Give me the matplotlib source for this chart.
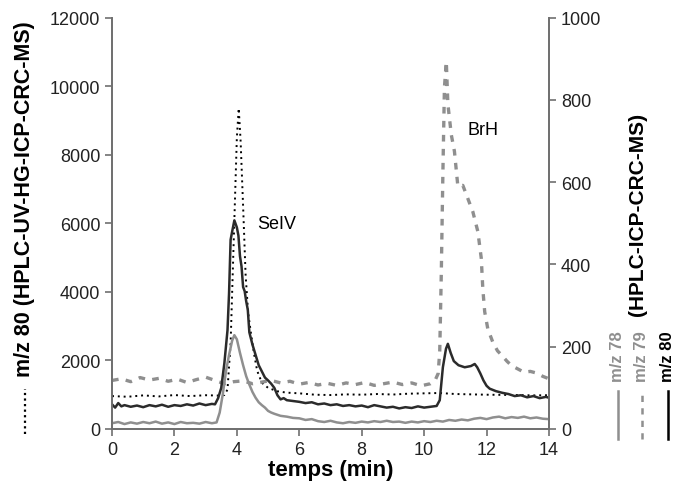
import matplotlib
matplotlib.use("Agg")
from matplotlib import pyplot as plt
from matplotlib.lines import Line2D

plt.rcParams['font.family'] = ['Liberation Sans', 'DejaVu Sans']

# m/z 80, HPLC-UV-HG-ICP-CRC-MS (left axis)
t_uv = [0.0, 0.5, 1.0, 1.5, 2.0, 2.5, 3.0, 3.4, 3.6, 3.7, 3.8, 3.9, 4.0, 4.06,
        4.12, 4.2, 4.28, 4.36, 4.45, 4.55, 4.65, 4.8, 5.0, 5.3, 5.6, 6.0, 6.5,
        7.0, 7.5, 8.0, 8.5, 9.0, 9.5, 10.0, 10.5, 11.0, 11.5, 12.0, 12.5, 13.0,
        13.5, 14.0]
uv80 = [960, 940, 980, 950, 990, 960, 985, 975, 990, 1150, 2500, 5500, 8500, 9350,
        8400, 6500, 4500, 3400, 2800, 2200, 1700, 1350, 1200, 1100, 1060, 1040, 1000,
        990, 1010, 1000, 1020, 1005, 1030, 1040, 1050, 1020, 1010, 1000, 995, 990,
        980, 985]

# m/z 78, HPLC-ICP-CRC-MS (right axis)
t_78 = [0.0, 0.2, 0.4, 0.6, 0.8, 1.0, 1.2, 1.4, 1.6, 1.8, 2.0, 2.2, 2.4, 2.6, 2.8,
        3.0, 3.2, 3.35, 3.45, 3.55, 3.65, 3.75, 3.85, 3.92, 4.0, 4.1, 4.2, 4.3,
        4.4, 4.5, 4.6, 4.7, 4.8, 4.9, 5.0, 5.1, 5.2, 5.4, 5.6, 5.8, 6.0, 6.2, 6.4,
        6.6, 6.8, 7.0, 7.2, 7.4, 7.6, 7.8, 8.0, 8.2, 8.4, 8.6, 8.8, 9.0, 9.2, 9.4,
        9.6, 9.8, 10.0, 10.2, 10.4, 10.6, 10.8, 11.0, 11.2, 11.4, 11.6, 11.8, 12.0,
        12.2, 12.4, 12.6, 12.8, 13.0, 13.2, 13.4, 13.6, 13.8, 14.0]
ms78 = [14, 17, 12, 16, 13, 17, 14, 18, 13, 16, 12, 17, 14, 15, 13,
        17, 14, 16, 40, 85, 140, 180, 215, 228, 218, 185, 155, 128,
        108, 90, 76, 65, 58, 52, 44, 40, 37, 32, 30, 27, 26, 22, 24,
        19, 17, 20, 16, 14, 17, 15, 18, 16, 19, 17, 20, 17, 18, 15,
        18, 16, 19, 17, 20, 18, 22, 20, 23, 21, 25, 27, 24,
        28, 30, 26, 29, 27, 30, 26, 28, 25, 24]

# m/z 79
t_79 = [0.0, 0.3, 0.6, 0.9, 1.2, 1.5, 1.8, 2.1, 2.4, 2.7, 3.0, 3.3, 3.6, 3.9, 4.2,
        4.5, 4.8, 5.1, 5.4, 5.7, 6.0, 6.3, 6.6, 6.9, 7.2, 7.5, 7.8, 8.1, 8.4, 8.7,
        9.0, 9.3, 9.6, 9.9, 10.2, 10.35, 10.45, 10.5, 10.55, 10.6, 10.65, 10.71,
        10.76, 10.87, 10.97, 11.08, 11.24, 11.4, 11.56, 11.72, 11.83, 11.88, 11.94,
        12.04, 12.2, 12.35, 12.5, 12.65, 12.8, 13.0, 13.2, 13.4, 13.6, 13.8, 14.0]
ms79 = [118, 122, 115, 125, 119, 123, 116, 121, 113, 120, 126, 118, 110, 115, 117,
        110, 114, 118, 112, 116, 109, 113, 107, 111, 106, 112, 108, 113, 106, 110,
        114, 108, 112, 105, 110, 118, 135, 190, 380, 620, 830, 893,
        790, 715, 675, 590, 592, 560, 528, 480, 415, 340, 285,
        243, 211, 190, 178, 165, 154, 146, 138, 140, 136, 128, 122]

# m/z 80
t_80 = [0.0, 0.1, 0.2, 0.3, 0.4, 0.6, 0.8, 1.0, 1.2, 1.4, 1.6, 1.8, 2.0, 2.2, 2.4,
        2.6, 2.8, 3.0, 3.2, 3.3, 3.4, 3.5, 3.6, 3.7, 3.75, 3.8, 3.85, 3.92, 4.0,
        4.05, 4.1, 4.15, 4.2, 4.25, 4.3, 4.35, 4.4, 4.5, 4.6, 4.7, 4.8, 4.9, 5.0,
        5.1, 5.2, 5.3, 5.4, 5.5, 5.6, 5.8, 6.0, 6.2, 6.4, 6.6, 6.8, 7.0, 7.2, 7.4,
        7.6, 7.8, 8.0, 8.2, 8.4, 8.6, 8.8, 9.0, 9.2, 9.4, 9.6, 9.8, 10.0, 10.2,
        10.4, 10.5, 10.6, 10.7, 10.76, 10.85, 10.95, 11.1, 11.3, 11.5, 11.62, 11.7,
        11.8, 11.9, 12.0, 12.1, 12.3, 12.5, 12.7, 12.9, 13.1, 13.3, 13.5, 13.7,
        13.9, 14.0]
ms80 = [60, 52, 63, 55, 58, 54, 57, 53, 58, 55, 59, 54, 58, 56, 60,
        57, 62, 58, 61, 60, 75, 100, 160, 240, 330, 460, 480, 507, 490,
        470, 420, 395, 345, 335, 310, 290, 235, 205, 180, 155, 140, 125, 118,
        110, 100, 82, 72, 75, 70, 68, 66, 63, 65, 60, 62, 58, 60, 56,
        58, 55, 57, 53, 58, 55, 52, 54, 50, 53, 51, 55, 52, 54,
        56, 70, 150, 195, 207, 185, 165, 155, 150, 153, 158, 150,
        135, 118, 105, 98, 92, 88, 85, 80, 82, 77, 80, 75,
        78, 76]

gray = "#8f8f8f"
dark = "#2b2b2b"

fig = plt.figure(figsize=(6.75, 4.85), dpi=100)
ax = fig.add_axes([112/675, 1 - 430/485, 437/675, 411.5/485])
ax2 = ax.twinx()

ax.plot(t_uv, uv80, color="black", linestyle=(0, (1, 2)), linewidth=1.4, zorder=3)
ax2.plot(t_78, ms78, color=gray, linewidth=1.8)
ax2.plot(t_79, ms79, color=gray, linestyle=(0, (2, 2.2)), linewidth=2.4)
ax2.plot(t_80, ms80, color=dark, linewidth=1.8)

ax.set_xlim(0, 14)
ax.set_ylim(0, 12000)
ax2.set_ylim(0, 1000)
ax.set_xticks(range(0, 15, 2))
ax.set_yticks(range(0, 12001, 2000))
ax2.set_yticks(range(0, 1001, 200))

for a in (ax, ax2):
    a.spines['top'].set_visible(False)
    for s in ('left', 'right', 'bottom'):
        a.spines[s].set_color("#707070")
        a.spines[s].set_linewidth(1.3)
    a.tick_params(labelsize=13, color="#707070", length=5, width=1.2,
                  labelcolor="#222222", direction="out")

ax.set_xlabel("temps (min)", fontsize=16, fontweight="bold", labelpad=1)

ax.text(4.65, 6000, "SeIV", fontsize=13, va="center", ha="left")
ax.text(11.4, 8720, "BrH", fontsize=13, va="center", ha="left")

# left axis title with its dotted line sample
fig.text(25/675, 1 - 377/485, "m/z 80 (HPLC-UV-HG-ICP-CRC-MS)", rotation=90,
         ha="center", va="bottom", fontsize=15.5, fontweight="bold")
fig.add_artist(Line2D([25/675, 25/675], [1 - 435/485, 1 - 390/485],
                      color="black", linestyle=(0, (1, 1.5)), linewidth=1.6))

# right axis titles with line samples
fig.text(637/675, 1 - 316/485, "(HPLC-ICP-CRC-MS)", rotation=90,
         ha="center", va="bottom", fontsize=15, fontweight="bold")
right_labels = [("m/z 78", 618, gray, "-"),
                ("m/z 79", 642, gray, (0, (2.5, 2.5))),
                ("m/z 80", 668, "black", "-")]
for txt, xp, col, ls in right_labels:
    fig.text(xp/675, 1 - 382/485, txt, rotation=90, ha="center", va="bottom",
             fontsize=12, color=col, fontweight="bold")
    fig.add_artist(Line2D([xp/675, xp/675], [1 - 440/485, 1 - 392/485],
                          color=col, linestyle=ls, linewidth=1.8))

fig.savefig("out.png", dpi=100)
